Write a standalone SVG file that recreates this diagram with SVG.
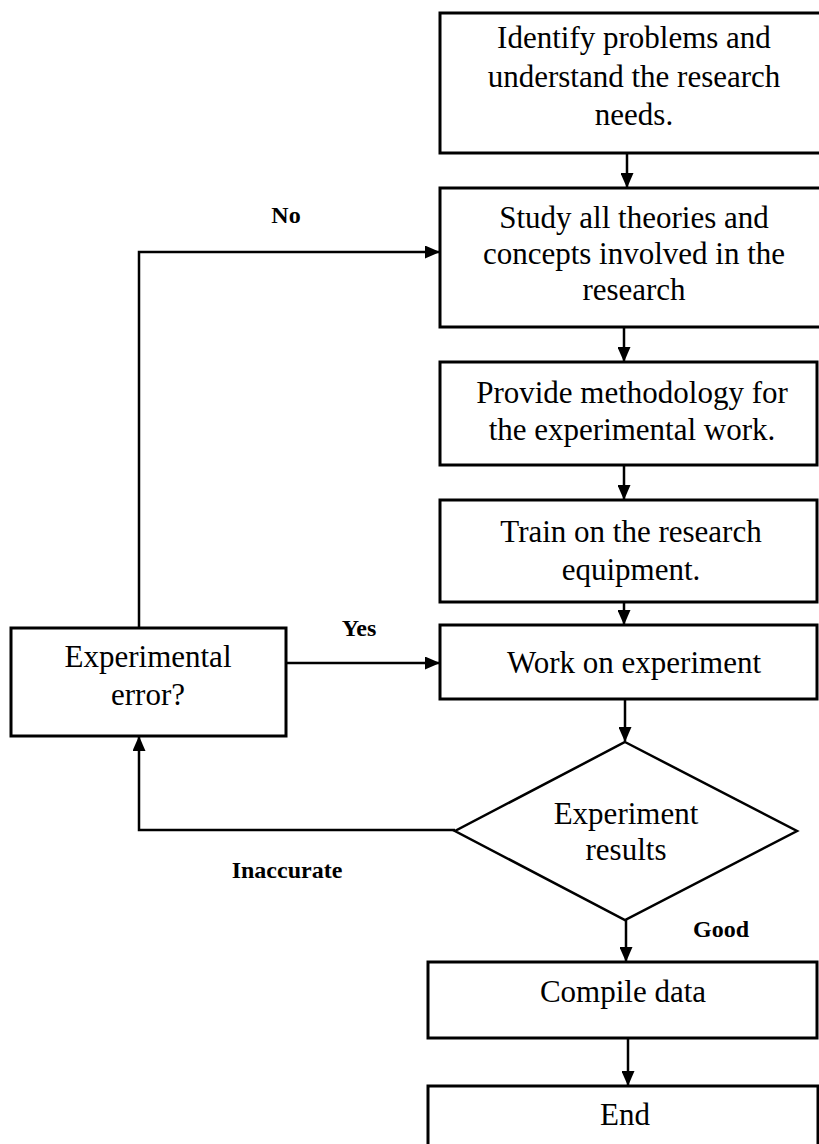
<svg xmlns="http://www.w3.org/2000/svg" width="819" height="1144" viewBox="0 0 819 1144">
<defs>
<style>
.box{fill:#fff;stroke:#000;stroke-width:3}
.t{font-family:"Liberation Serif","Times New Roman",serif;font-size:31px;fill:#000;text-anchor:middle}
.lbl{font-family:"Liberation Serif","Times New Roman",serif;font-size:24px;font-weight:bold;fill:#000;text-anchor:middle}
.c{fill:none;stroke:#000;stroke-width:2.5}
</style>
<marker id="ah" markerWidth="15" markerHeight="13" refX="14" refY="6.5" orient="auto" markerUnits="userSpaceOnUse">
<path d="M0,0 L15,6.5 L0,13 Z" fill="#000"/>
</marker>
</defs>
<rect width="819" height="1144" fill="#fff"/>
<g id="n1"><rect class="box" x="440" y="13" width="385" height="140"/>
<text class="t" x="634" y="48">Identify problems and</text>
<text class="t" x="634" y="87">understand the research</text>
<text class="t" x="634" y="125">needs.</text></g>
<g id="n2"><rect class="box" x="440" y="188" width="385" height="139"/>
<text class="t" x="634" y="228">Study all theories and</text>
<text class="t" x="634" y="264">concepts involved in the</text>
<text class="t" x="634" y="300">research</text></g>
<g id="n3"><rect class="box" x="440" y="362" width="377" height="103"/>
<text class="t" x="632" y="403">Provide methodology for</text>
<text class="t" x="632" y="440">the experimental work.</text></g>
<g id="n4"><rect class="box" x="440" y="500" width="377" height="102"/>
<text class="t" x="631" y="542">Train on the research</text>
<text class="t" x="631" y="580">equipment.</text></g>
<g id="n5"><rect class="box" x="440" y="625" width="377" height="74"/>
<text class="t" x="634" y="673">Work on experiment</text></g>
<g id="n6"><polygon fill="#fff" stroke="#000" stroke-width="2.5" points="625,742 797,831 625,920 455,831"/>
<text class="t" x="626" y="824">Experiment</text>
<text class="t" x="626" y="860">results</text></g>
<g id="n7"><rect class="box" x="428" y="962" width="389" height="76"/>
<text class="t" x="623" y="1002">Compile data</text></g>
<g id="n8"><rect class="box" x="428" y="1086" width="390" height="70"/>
<text class="t" x="625" y="1125">End</text></g>
<g id="n9"><rect class="box" x="11" y="628" width="275" height="108"/>
<text class="t" x="148" y="667">Experimental</text>
<text class="t" x="148" y="705">error?</text></g>
<g id="connectors">
<line class="c" x1="627" y1="153" x2="627" y2="187" marker-end="url(#ah)"/>
<line class="c" x1="624" y1="327" x2="624" y2="361" marker-end="url(#ah)"/>
<line class="c" x1="624" y1="465" x2="624" y2="499" marker-end="url(#ah)"/>
<line class="c" x1="624" y1="602" x2="624" y2="624" marker-end="url(#ah)"/>
<line class="c" x1="625" y1="699" x2="625" y2="741" marker-end="url(#ah)"/>
<line class="c" x1="626" y1="920" x2="626" y2="961" marker-end="url(#ah)"/>
<line class="c" x1="628" y1="1038" x2="628" y2="1085" marker-end="url(#ah)"/>
<line class="c" x1="286" y1="663" x2="439" y2="663" marker-end="url(#ah)"/>
<polyline class="c" points="139,628 139,252 439,252" marker-end="url(#ah)"/>
<polyline class="c" points="455,830 139,830 139,737" marker-end="url(#ah)"/>
</g>
<g id="labels">
<text class="lbl" x="286" y="223">No</text>
<text class="lbl" x="359" y="636">Yes</text>
<text class="lbl" x="287" y="878">Inaccurate</text>
<text class="lbl" x="721" y="937">Good</text>
</g>
</svg>
